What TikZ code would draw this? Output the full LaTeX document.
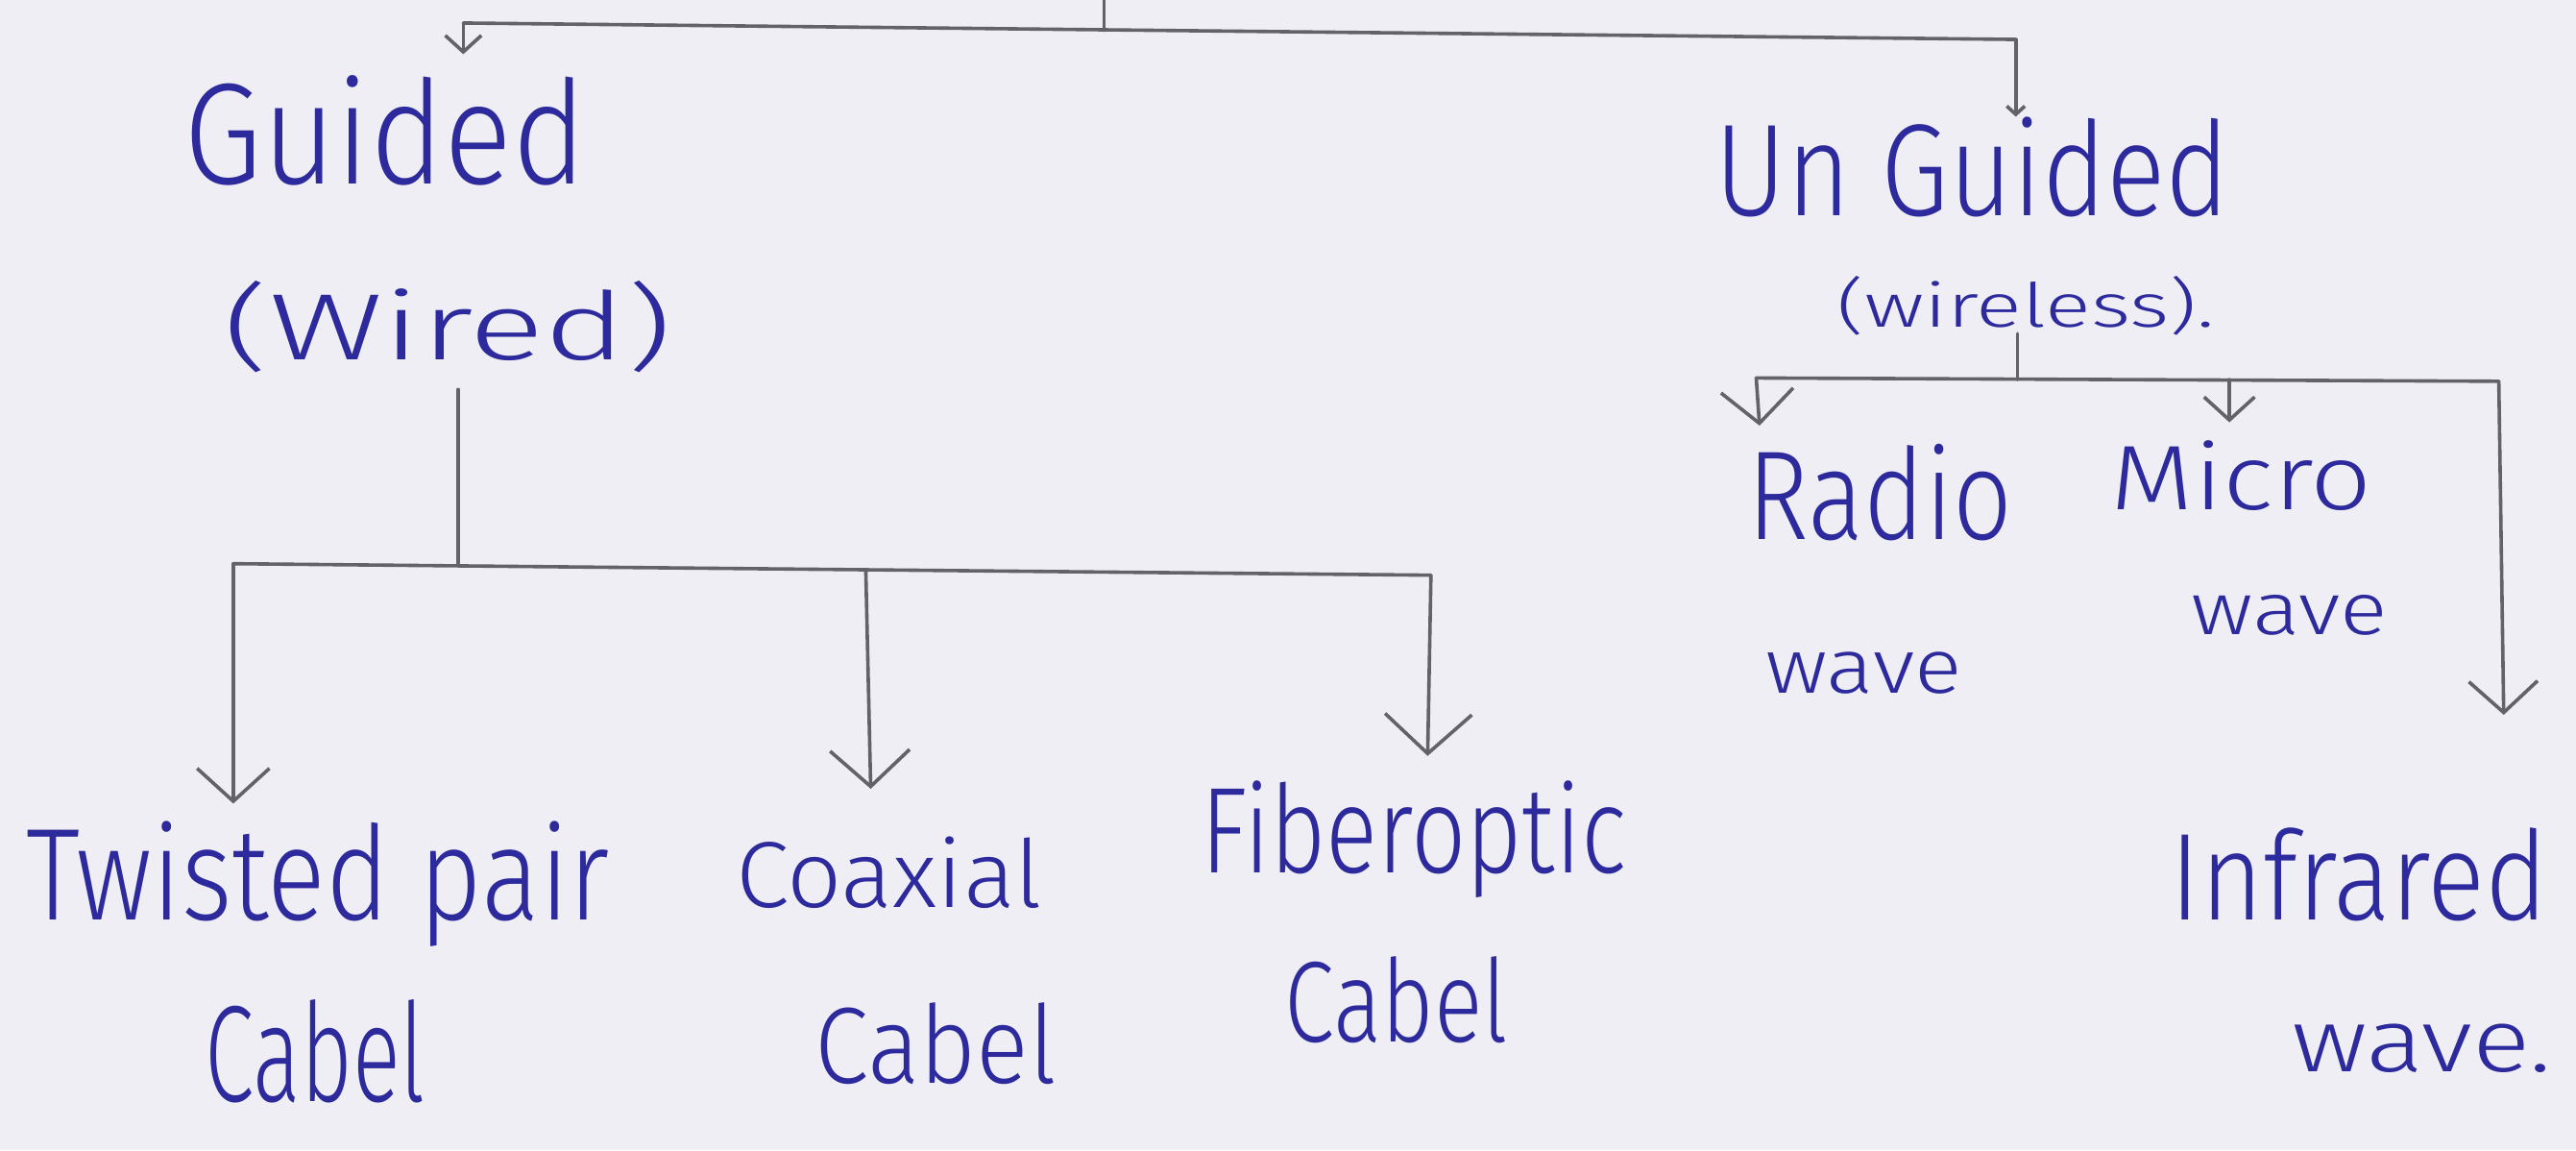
\documentclass[tikz,border=0pt]{standalone}
\usepackage{fontspec}
\usepackage{graphicx}
\setmainfont{Fira Sans}[UprightFont={* Light}]
\usetikzlibrary{arrows.meta}

\definecolor{paper}{RGB}{239,238,245}
\definecolor{ink}{RGB}{44,42,156}
\definecolor{pencil}{RGB}{98,98,104}

% one drawing unit = 0.02cm
\newlength\hwu
\setlength\hwu{0.02cm}
% handwritten label squeezed into a box of given width and height (in drawing units)
\newcommand{\hw}[3]{\resizebox{#1\hwu}{#2\hwu}{#3}}

\tikzset{
  lbl/.style={inner sep=0pt, outer sep=0pt, anchor=base west, text=ink},
  wire/.style={draw=pencil, line width=1.2pt, line cap=round, line join=round},
  link/.style={wire, -{Straight Barb[length=#1*0.02cm, width=2.2*#1*0.02cm, line width=1.2pt]}},
  link/.default=20
}

\begin{document}
\begin{tikzpicture}[x={(0.02cm,0)}, y={(0,-0.02cm)}]
  \useasboundingbox (0,0) rectangle (1568,700);
  \fill[paper] (0,0) rectangle (1568,700);

  % ---- labels ----
  \node[lbl] (guided)   at (112,112) {\hw{245}{66}{Guided}};
  \node[lbl] (wired)    at (136,219) {\hw{273}{48}{(Wired)}};
  \node[lbl] (unguided) at (1044,131) {\hw{313}{60}{Un Guided}};
  \node[lbl] (wireless) at (1118,199) {\hw{230}{31}{(wireless).}};

  \node[lbl] (twisted)  at (16,560)  {\hw{355}{60}{Twisted pair}};
  \node[lbl] (cabA)     at (125,670) {\hw{134}{62}{Cabel}};
  \node[lbl] (coaxial)  at (448,552) {\hw{186}{43}{Coaxial}};
  \node[lbl] (cabB)     at (496,659) {\hw{147}{49}{Cabel}};
  \node[lbl] (fiber)    at (731,531) {\hw{259}{56}{Fiberoptic}};
  \node[lbl] (cabC)     at (782,634) {\hw{136}{52}{Cabel}};

  \node[lbl] (radio)    at (1064,328) {\hw{161}{58}{Radio}};
  \node[lbl] (radiow)   at (1075,422) {\hw{119}{25}{wave}};
  \node[lbl] (micro)    at (1285,310) {\hw{159}{42}{Micro}};
  \node[lbl] (microw)   at (1334,386) {\hw{119}{24}{wave}};
  \node[lbl] (infra)    at (1321,560) {\hw{230}{56}{Infrared}};
  \node[lbl] (infraw)   at (1395,652) {\hw{158}{29}{wave.}};

  % ---- junction points ----
  \coordinate (root)  at (672,0);
  \coordinate (rootj) at (672,18.5);
  \coordinate (barL)  at (282,14);
  \coordinate (barR)  at (1227,24);
  \coordinate (tipG)  at (282,33);
  \coordinate (tipU)  at (1227,71);

  \coordinate (wdown) at (279,237);
  \coordinate (wj)    at (279,343.6);
  \coordinate (gL)    at (142,343);
  \coordinate (gM)    at (527,347);
  \coordinate (gR)    at (871,350);
  \coordinate (tipTw) at (142,489);
  \coordinate (tipCo) at (530,480);
  \coordinate (tipFi) at (869,460);

  \coordinate (wlDown) at (1228,203);
  \coordinate (wlj)    at (1228,231);
  \coordinate (uL)     at (1069,230);
  \coordinate (uM)     at (1357,231);
  \coordinate (uR)     at (1521,232);
  \coordinate (tipRa)  at (1071,259);
  \coordinate (tipMi)  at (1357,257);
  \coordinate (tipIn)  at (1524,435);

  % ---- top level ----
  \draw[wire] (root) -- (rootj);
  \draw[wire] (barL) -- (barR);
  \draw[link=10] (barL) -- (tipG);
  \draw[link=5]  (barR) -- (tipU);

  % ---- guided branch ----
  \draw[wire] (wdown) -- (wj);
  \draw[wire] (gL) -- (gR);
  \draw[link=20] (gL) -- (tipTw);
  \draw[link=22] (gM) -- (tipCo);
  \draw[link=24] (gR) -- (tipFi);

  % ---- unguided branch ----
  \draw[wire] (wlDown) -- (wlj);
  \draw[wire] (uL) -- (uR);
  \draw[link=20] (uL) -- (tipRa);
  \draw[link=14] (uM) -- (tipMi);
  \draw[link=19] (uR) -- (tipIn);
\end{tikzpicture}
\end{document}
